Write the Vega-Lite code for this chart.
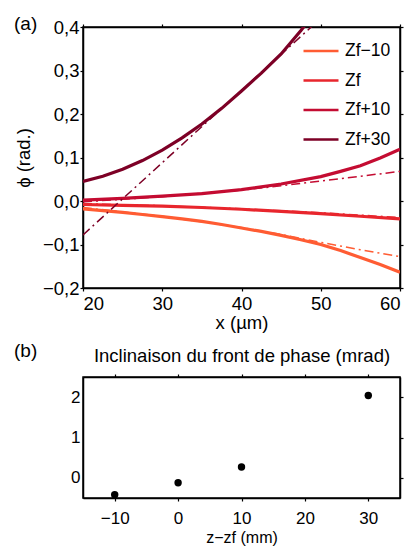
{
  "$schema": "https://vega.github.io/schema/vega-lite/v6.json",
  "padding": {"left": 13, "top": 14, "right": 9, "bottom": 0},
  "background": "white",
  "spacing": 8,
  "config": {
    "font": "Liberation Sans",
    "view": {"stroke": "black", "strokeWidth": 1.5},
    "axis": {
      "grid": false, "domainColor": "black", "domainWidth": 1.5,
      "tickColor": "black", "tickSize": 3, "tickWidth": 1.2,
      "labelFont": "Liberation Sans", "labelFontSize": 18.5, "labelColor": "black",
      "titleFont": "Liberation Sans", "titleFontSize": 18.5, "titleFontWeight": "normal", "titleColor": "black"
    },
    "title": {"font": "Liberation Sans", "fontSize": 19, "fontWeight": "normal", "color": "black"}
  },
  "datasets": {
    "solid": [
      {"x": 20, "phi": -0.018, "series": "Zf−10"}, {"x": 22.5, "phi": -0.022, "series": "Zf−10"}, {"x": 25, "phi": -0.026, "series": "Zf−10"}, {"x": 27.5, "phi": -0.031, "series": "Zf−10"}, {"x": 30, "phi": -0.036, "series": "Zf−10"}, {"x": 32.5, "phi": -0.041, "series": "Zf−10"}, {"x": 35, "phi": -0.047, "series": "Zf−10"}, {"x": 37.5, "phi": -0.054, "series": "Zf−10"}, {"x": 40, "phi": -0.062, "series": "Zf−10"}, {"x": 42.5, "phi": -0.070, "series": "Zf−10"}, {"x": 45, "phi": -0.079, "series": "Zf−10"}, {"x": 47.5, "phi": -0.089, "series": "Zf−10"}, {"x": 50, "phi": -0.100, "series": "Zf−10"}, {"x": 52.5, "phi": -0.114, "series": "Zf−10"}, {"x": 55, "phi": -0.130, "series": "Zf−10"}, {"x": 57.5, "phi": -0.146, "series": "Zf−10"}, {"x": 60, "phi": -0.164, "series": "Zf−10"},
      {"x": 20, "phi": -0.008, "series": "Zf"}, {"x": 25, "phi": -0.010, "series": "Zf"}, {"x": 30, "phi": -0.012, "series": "Zf"}, {"x": 35, "phi": -0.015, "series": "Zf"}, {"x": 40, "phi": -0.019, "series": "Zf"}, {"x": 45, "phi": -0.024, "series": "Zf"}, {"x": 50, "phi": -0.029, "series": "Zf"}, {"x": 55, "phi": -0.035, "series": "Zf"}, {"x": 60, "phi": -0.041, "series": "Zf"},
      {"x": 20, "phi": 0.002, "series": "Zf+10"}, {"x": 25, "phi": 0.006, "series": "Zf+10"}, {"x": 30, "phi": 0.011, "series": "Zf+10"}, {"x": 35, "phi": 0.017, "series": "Zf+10"}, {"x": 40, "phi": 0.026, "series": "Zf+10"}, {"x": 45, "phi": 0.039, "series": "Zf+10"}, {"x": 50, "phi": 0.056, "series": "Zf+10"}, {"x": 52.5, "phi": 0.068, "series": "Zf+10"}, {"x": 55, "phi": 0.081, "series": "Zf+10"}, {"x": 57.5, "phi": 0.099, "series": "Zf+10"}, {"x": 60, "phi": 0.119, "series": "Zf+10"},
      {"x": 20, "phi": 0.045, "series": "Zf+30"}, {"x": 22.5, "phi": 0.057, "series": "Zf+30"}, {"x": 25, "phi": 0.073, "series": "Zf+30"}, {"x": 27.5, "phi": 0.093, "series": "Zf+30"}, {"x": 30, "phi": 0.117, "series": "Zf+30"}, {"x": 32.5, "phi": 0.145, "series": "Zf+30"}, {"x": 35, "phi": 0.177, "series": "Zf+30"}, {"x": 37.5, "phi": 0.213, "series": "Zf+30"}, {"x": 40, "phi": 0.253, "series": "Zf+30"}, {"x": 42.5, "phi": 0.294, "series": "Zf+30"}, {"x": 45, "phi": 0.338, "series": "Zf+30"}, {"x": 47.5, "phi": 0.392, "series": "Zf+30"}, {"x": 50, "phi": 0.45, "series": "Zf+30"}
    ],
    "fit": [
      {"x": 20, "phi": -0.015, "series": "Zf−10"}, {"x": 30, "phi": -0.035, "series": "Zf−10"}, {"x": 40, "phi": -0.061, "series": "Zf−10"}, {"x": 45, "phi": -0.077, "series": "Zf−10"}, {"x": 50, "phi": -0.095, "series": "Zf−10"}, {"x": 55, "phi": -0.112, "series": "Zf−10"}, {"x": 60, "phi": -0.128, "series": "Zf−10"},
      {"x": 20, "phi": -0.006, "series": "Zf"}, {"x": 30, "phi": -0.011, "series": "Zf"}, {"x": 40, "phi": -0.018, "series": "Zf"}, {"x": 50, "phi": -0.027, "series": "Zf"}, {"x": 60, "phi": -0.038, "series": "Zf"},
      {"x": 20, "phi": -0.002, "series": "Zf+10"}, {"x": 30, "phi": 0.010, "series": "Zf+10"}, {"x": 40, "phi": 0.025, "series": "Zf+10"}, {"x": 45, "phi": 0.035, "series": "Zf+10"}, {"x": 50, "phi": 0.046, "series": "Zf+10"}, {"x": 55, "phi": 0.057, "series": "Zf+10"}, {"x": 60, "phi": 0.068, "series": "Zf+10"},
      {"x": 20, "phi": -0.078, "series": "Zf+30"}, {"x": 50, "phi": 0.42, "series": "Zf+30"}
    ],
    "tilt": [
      {"z": -10, "t": -0.42}, {"z": 0, "t": -0.12}, {"z": 10, "t": 0.27}, {"z": 30, "t": 2.04}
    ]
  },
  "vconcat": [
    {
      "title": {"text": "(a)", "anchor": "start", "frame": "group", "dx": -69, "dy": 20},
      "width": 317,
      "height": 261,
      "layer": [
        {
          "data": {"name": "solid"},
          "mark": {"type": "line", "strokeWidth": 3.2, "clip": true},
          "encoding": {
            "x": {"field": "x", "type": "quantitative", "scale": {"domain": [20, 60], "nice": false},
                  "axis": {"values": [20, 30, 40, 50, 60], "title": "x (µm)", "labelPadding": 3, "titlePadding": 1}},
            "y": {"field": "phi", "type": "quantitative", "scale": {"domain": [-0.2, 0.4], "nice": false, "zero": false},
                  "axis": {"values": [-0.2, -0.1, 0, 0.1, 0.2, 0.3, 0.4], "labelExpr": "replace(format(datum.value, '.1f'), '.', ',')", "title": "ϕ (rad.)", "labelPadding": 1, "titlePadding": 9}},
            "color": {"field": "series", "type": "nominal",
                      "scale": {"domain": ["Zf−10", "Zf", "Zf+10", "Zf+30"], "range": ["#ff5c33", "#e8262d", "#c40c32", "#7d0026"]},
                      "legend": {"title": null, "orient": "none", "legendX": 219, "legendY": 5, "symbolType": "stroke", "symbolSize": 1225, "symbolStrokeWidth": 2.5, "symbolDash": [1, 0], "labelFontSize": 17.5, "labelColor": "black", "labelOffset": 5, "rowPadding": 1.5, "padding": 0}}
          }
        },
        {
          "data": {"name": "fit"},
          "mark": {"type": "line", "strokeWidth": 1.5, "strokeDash": [9, 4, 2, 4], "clip": true},
          "encoding": {
            "x": {"field": "x", "type": "quantitative", "axis": {"orient": "top", "values": [20, 30, 40, 50, 60], "labels": false, "title": null}},
            "y": {"field": "phi", "type": "quantitative", "axis": {"orient": "right", "values": [-0.2, -0.1, 0, 0.1, 0.2, 0.3, 0.4], "labels": false, "title": null}},
            "color": {"field": "series", "type": "nominal"}
          }
        }
      ],
      "resolve": {"axis": {"x": "independent", "y": "independent"}}
    },
    {
      "title": {"text": "(b)", "anchor": "start", "frame": "group", "dx": -69, "dy": 19},
      "width": 317,
      "height": 121,
      "data": {"name": "tilt"},
      "layer": [
        {
          "mark": {"type": "point", "filled": true, "size": 55, "color": "black", "opacity": 1},
          "encoding": {
            "x": {"field": "z", "type": "quantitative", "scale": {"domain": [-15, 35], "nice": false},
                  "axis": {"values": [-10, 0, 10, 20, 30], "title": "z−zf (mm)", "labelFontSize": 17, "titleFontSize": 16, "labelPadding": 9, "titlePadding": 3}},
            "y": {"field": "t", "type": "quantitative", "scale": {"domain": [-0.5, 2.5], "nice": false, "zero": false},
                  "axis": {"values": [0, 1, 2], "title": null, "ticks": false, "labelPadding": 3, "labelFontSize": 17}}
          }
        },
        {
          "mark": {"type": "point", "opacity": 0},
          "encoding": {
            "x": {"field": "z", "type": "quantitative", "axis": {"orient": "top", "values": [-10, 0, 10, 20, 30], "labels": false, "title": "Inclinaison du front de phase (mrad)", "titlePadding": 8}},
            "y": {"field": "t", "type": "quantitative", "axis": {"orient": "right", "values": [0, 1, 2], "labels": false, "title": null}}
          }
        }
      ],
      "resolve": {"axis": {"x": "independent", "y": "independent"}}
    }
  ]
}
